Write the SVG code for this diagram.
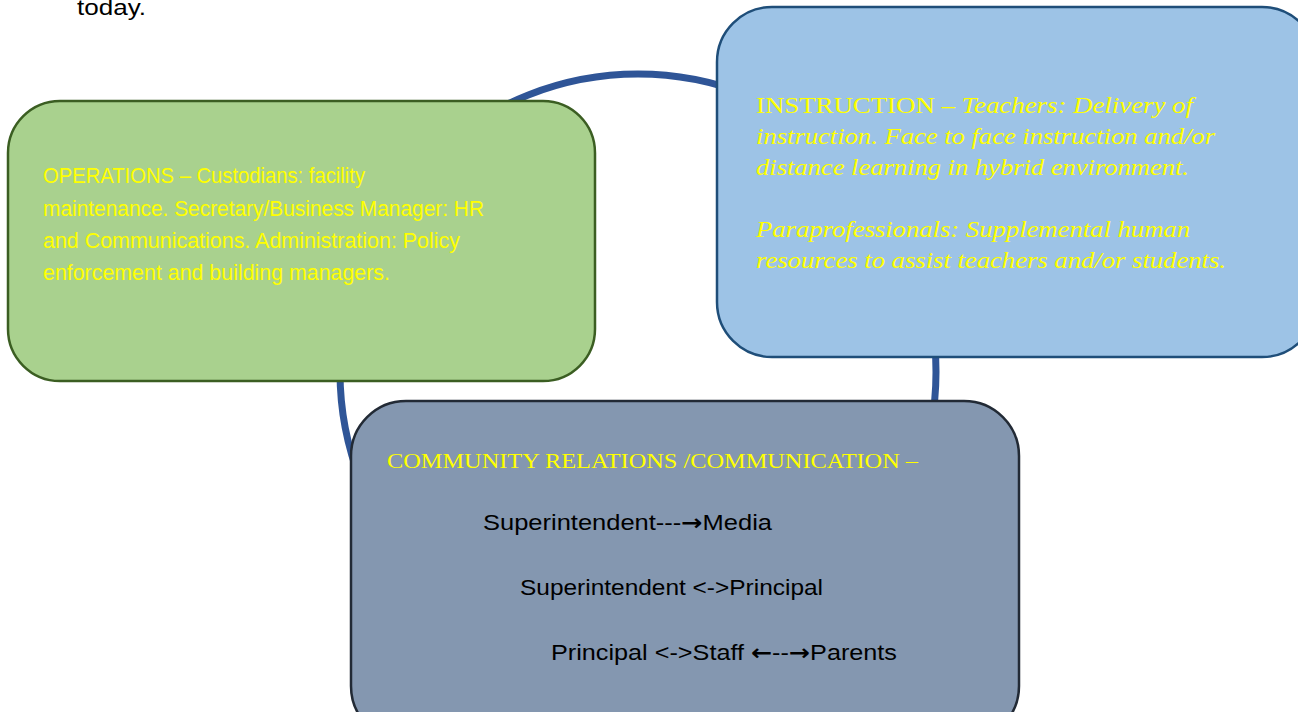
<svg xmlns="http://www.w3.org/2000/svg" width="1298" height="712" viewBox="0 0 1298 712">
<style>
.sans{font-family:"Liberation Sans",Arial,sans-serif;font-size:22px}
.serif{font-family:"Liberation Serif","Times New Roman",serif}
.y{fill:#FFFF00}
.k{fill:#000}
.box{stroke-width:2.5}
.arr{font-family:"DejaVu Sans",sans-serif;font-weight:bold;font-size:22px}
</style>
<rect width="1298" height="712" fill="#fff"/>
<text class="sans k" x="77" y="15" textLength="69" lengthAdjust="spacingAndGlyphs">today.</text>
<g id="connectors">
<circle cx="638" cy="372" r="298" fill="none" stroke="#2F5597" stroke-width="7"/>
</g>
<g id="operations">
<rect class="box" x="8" y="101" width="587" height="280" rx="52" fill="#A9D18E" stroke="#3B5E22"/>
<text class="sans y" x="43" y="183" textLength="322" lengthAdjust="spacingAndGlyphs">OPERATIONS – Custodians: facility</text>
<text class="sans y" x="43" y="216" textLength="441" lengthAdjust="spacingAndGlyphs">maintenance. Secretary/Business Manager: HR</text>
<text class="sans y" x="43" y="248" textLength="417" lengthAdjust="spacingAndGlyphs">and Communications. Administration: Policy</text>
<text class="sans y" x="43" y="280" textLength="347" lengthAdjust="spacingAndGlyphs">enforcement and building managers.</text>
</g>
<g id="instruction">
<rect class="box" x="717" y="7" width="600" height="350" rx="55" fill="#9DC3E6" stroke="#1F4E79"/>
<text class="serif y" font-size="23" x="756" y="113" textLength="437" lengthAdjust="spacingAndGlyphs">INSTRUCTION – <tspan font-style="italic">Teachers: Delivery of</tspan></text>
<text class="serif y" font-size="23" font-style="italic" x="756" y="144" textLength="459" lengthAdjust="spacingAndGlyphs">instruction. Face to face instruction and/or</text>
<text class="serif y" font-size="23" font-style="italic" x="756" y="175" textLength="433" lengthAdjust="spacingAndGlyphs">distance learning in hybrid environment.</text>
<text class="serif y" font-size="23" font-style="italic" x="756" y="237" textLength="434" lengthAdjust="spacingAndGlyphs">Paraprofessionals: Supplemental human</text>
<text class="serif y" font-size="23" font-style="italic" x="756" y="268" textLength="470" lengthAdjust="spacingAndGlyphs">resources to assist teachers and/or students.</text>
</g>
<g id="community">
<rect class="box" x="351" y="401" width="668" height="340" rx="55" fill="#8497B0" stroke="#222A35"/>
<text class="serif y" font-size="20" x="387" y="468" textLength="531" lengthAdjust="spacingAndGlyphs">COMMUNITY RELATIONS /COMMUNICATION –</text>
<text class="sans k" x="483" y="530" textLength="289" lengthAdjust="spacingAndGlyphs">Superintendent---<tspan class="arr">→</tspan>Media</text>
<text class="sans k" x="520" y="595" textLength="303" lengthAdjust="spacingAndGlyphs">Superintendent &lt;-&gt;Principal</text>
<text class="sans k" x="551" y="660" textLength="346" lengthAdjust="spacingAndGlyphs">Principal &lt;-&gt;Staff  <tspan class="arr">←</tspan>--<tspan class="arr">→</tspan>Parents</text>
</g>
</svg>
